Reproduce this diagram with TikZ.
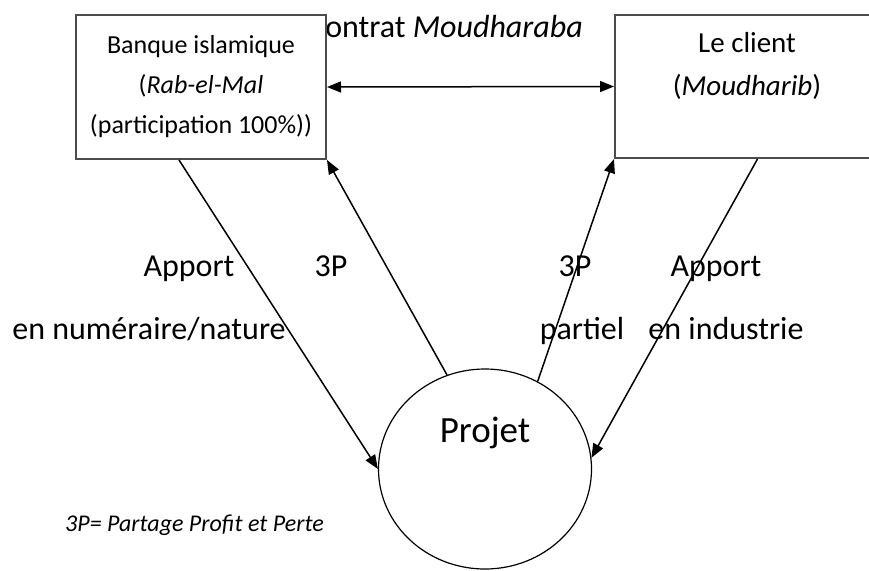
\documentclass[tikz,border=0pt]{standalone}
\usepackage{fontspec}
\setmainfont{Carlito}
\usetikzlibrary{arrows.meta,shapes.geometric}

\begin{document}
\begin{tikzpicture}[x=1pt,y=-1pt,
  boite/.style={draw=black!70,line width=2pt,fill=white,inner sep=0pt},
  pointe/.tip={Triangle[length=14pt,width=11pt]},
  fleche/.style={line width=1.5pt,-pointe},
  grand/.style={font=\fontsize{32}{38}\selectfont}]
 \useasboundingbox (0,0) rectangle (869,570);
 \node[grand,anchor=base west,inner sep=0pt] (titre) at (308,37) {Contrat \textit{Moudharaba}};
 \node[boite,minimum width=250pt,minimum height=144pt,align=center,font=\fontsize{26}{40}\selectfont] (banque) at (201,87) {Banque islamique\\(\textit{Rab-el-Mal}\\(participation 100\%))};
 \node[boite,minimum width=265pt,minimum height=143pt] (client) at (747.5,86.5) {};
 \node[align=center,font=\fontsize{29}{43}\selectfont] (clienttxt) at (747,66) {Le client\\(\textit{Moudharib})};
 \node[draw,ellipse,line width=1.2pt,minimum width=213pt,minimum height=200pt] (projet) at (485,469) {};
 \node[font=\fontsize{37}{44}\selectfont] (projettxt) at (485,433) {Projet};
 \draw[line width=1.5pt,pointe-pointe] (banque.east) -- (client.west);
 \draw[fleche] ([xshift=-22pt]banque.south) -- (projet.west);
 \draw[fleche] (projet.112) -- (banque.south east);
 \draw[fleche] (projet.59) -- (client.south west);
 \draw[fleche] ([xshift=10pt]client.south) -- (projet.6);
 \node[grand,anchor=base] (apport1) at (189,276) {Apport};
 \node[grand,anchor=base] (pp1) at (331,276) {3P};
 \node[grand,anchor=base] (pp2) at (575,276) {3P};
 \node[grand,anchor=base] (apport2) at (716,276) {Apport};
 \node[grand,anchor=base] (numeraire) at (149,339) {en numéraire/nature};
 \node[grand,anchor=base] (partiel) at (582,339) {partiel};
 \node[grand,anchor=base] (industrie) at (726,339) {en industrie};
 \node[font=\fontsize{24}{28}\selectfont\itshape,anchor=base west,inner sep=0pt] (legende) at (65,531) {3P= Partage Profit et Perte};
\end{tikzpicture}
\end{document}
